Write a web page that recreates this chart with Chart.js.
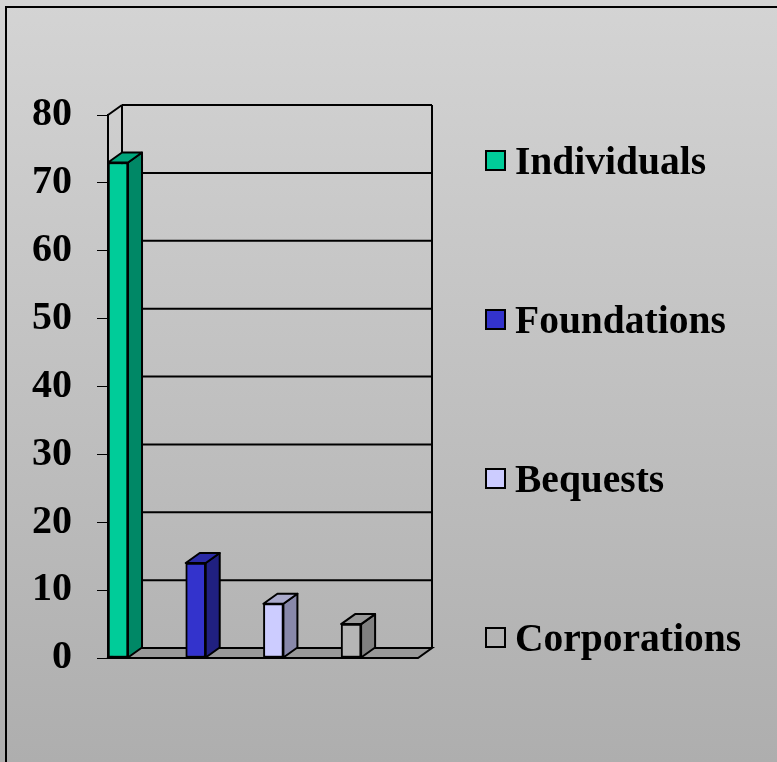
<!DOCTYPE html>
<html>
<head>
<meta charset="utf-8">
<script src="https://cdn.jsdelivr.net/npm/chart.js@4"></script>
<style>
  html, body { margin: 0; padding: 0; }
  body {
    width: 777px; height: 762px; overflow: hidden; position: relative;
    background: linear-gradient(to bottom, #d4d4d4 0%, #aeaeae 100%);
    font-family: "Liberation Serif", "Times New Roman", serif;
  }
  #frame {
    position: absolute; left: 5px; top: 6px; width: 820px; height: 820px;
    border: 2px solid #000; box-sizing: border-box;
  }
  #chartBox { position: absolute; left: 0; top: 0; }
  .legend-row { position: absolute; left: 485px; height: 44px; }
  .legend-row .sw {
    position: absolute; left: 0; top: 11px; width: 21px; height: 21px;
    border: 2px solid #000; box-sizing: border-box;
  }
  .legend-row .txt {
    position: absolute; left: 30px; top: 0; white-space: nowrap;
    font-size: 39.5px; font-weight: bold; line-height: 44px; color: #000;
  }
</style>
</head>
<body>
<div id="frame"></div>
<div id="chartBox"><canvas id="giftChart" width="777" height="762"></canvas></div>
<div id="legend"></div>
<script>
// data
const categories = ['Individuals', 'Foundations', 'Bequests', 'Corporations'];
const values = [73, 14, 8, 5];
const yTicks = [0, 10, 20, 30, 40, 50, 60, 70, 80];

// colours per series: front, side, top
const frontColors = ['#00cc99', '#3333cc', '#ccccff', '#b5b5b5'];
const sideColors = ['#008866', '#202080', '#8888aa', '#808080'];
const topColors = ['#00a67c', '#2a2aa6', '#aaaacc', '#999999'];
const legendSwatch = ['#00cc99', '#3333cc', '#ccccff', 'transparent'];

const DX = 14, DY = -10; // 3d depth

// back wall, floor and grid behind the bars
const wallsPlugin = {
    id: 'walls',
    beforeDatasetsDraw(chart) {
        const ctx = chart.ctx;
        const a = chart.chartArea;
        const y = chart.scales.y;
        ctx.save();
        ctx.strokeStyle = '#000';
        ctx.lineWidth = 2;

        // floor
        ctx.fillStyle = '#999999';
        ctx.beginPath();
        ctx.moveTo(a.left, a.bottom);
        ctx.lineTo(a.left + DX, a.bottom + DY);
        ctx.lineTo(a.right + DX, a.bottom + DY);
        ctx.lineTo(a.right, a.bottom);
        ctx.closePath();
        ctx.fill();
        ctx.stroke();

        // back wall grid lines
        yTicks.forEach(function(v) {
            const py = y.getPixelForValue(v) + DY;
            ctx.beginPath();
            ctx.moveTo(a.left + DX, py);
            ctx.lineTo(a.right + DX, py);
            ctx.stroke();
        });

        // back wall edges
        ctx.beginPath();
        ctx.moveTo(a.left + DX, a.bottom + DY);
        ctx.lineTo(a.left + DX, a.top + DY);
        ctx.moveTo(a.right + DX, a.bottom + DY);
        ctx.lineTo(a.right + DX, a.top + DY);
        // side wall top edge
        ctx.moveTo(a.left, a.top);
        ctx.lineTo(a.left + DX, a.top + DY);
        ctx.stroke();
        ctx.restore();
    },
    afterDatasetsDraw(chart) {
        const ctx = chart.ctx;
        ctx.save();
        ctx.strokeStyle = '#000';
        ctx.lineWidth = 2;
        ctx.lineJoin = 'round';
        chart.data.datasets.forEach(function(ds, i) {
            const meta = chart.getDatasetMeta(i);
            meta.data.forEach(function(bar) {
                const l = bar.x - bar.width / 2, r = bar.x + bar.width / 2;
                const t = bar.y, b = bar.base;
                // side face
                ctx.fillStyle = sideColors[i];
                ctx.beginPath();
                ctx.moveTo(r, t);
                ctx.lineTo(r + DX, t + DY);
                ctx.lineTo(r + DX, b + DY);
                ctx.lineTo(r, b);
                ctx.closePath();
                ctx.fill();
                ctx.stroke();
                // top face
                ctx.fillStyle = topColors[i];
                ctx.beginPath();
                ctx.moveTo(l, t);
                ctx.lineTo(l + DX, t + DY);
                ctx.lineTo(r + DX, t + DY);
                ctx.lineTo(r, t);
                ctx.closePath();
                ctx.fill();
                ctx.stroke();
            });
        });
        ctx.restore();
    }
};

const datasets = categories.map(function(name, i) {
    return {
        label: name,
        data: [{ x: i, y: values[i] }],
        backgroundColor: frontColors[i],
        borderColor: '#000',
        borderWidth: 2,
        borderSkipped: false,
        barThickness: 20
    };
});

const ctx = document.getElementById('giftChart').getContext('2d');
const giftChart = new Chart(ctx, {
    type: 'bar',
    data: { datasets: datasets },
    options: {
        responsive: false,
        animation: false,
        grouped: false,
        layout: { padding: { left: 0, top: 115, right: 359, bottom: 104 } },
        plugins: {
            legend: { display: false },
            tooltip: { enabled: false }
        },
        scales: {
            x: {
                type: 'linear',
                min: -0.129,
                max: 3.861,
                offset: false,
                display: false
            },
            y: {
                min: 0,
                max: 80,
                ticks: {
                    stepSize: 10,
                    padding: 25,
                    color: '#000',
                    font: { family: '"Liberation Serif", "Times New Roman", serif', size: 40, weight: 'bold' }
                },
                grid: {
                    drawOnChartArea: false,
                    drawTicks: true,
                    tickLength: 11,
                    color: '#000',
                    lineWidth: 1
                },
                border: { display: true, color: '#000', width: 2 },
                afterFit: function(scale) { scale.width = 108; }
            }
        }
    },
    plugins: [wallsPlugin]
});

// legend
const legendEl = document.getElementById('legend');
const legendTops = [139, 298, 457, 616];
categories.forEach(function(name, i) {
    const row = document.createElement('div');
    row.className = 'legend-row';
    row.style.top = legendTops[i] + 'px';
    row.innerHTML = '<div class="sw" style="background:' + legendSwatch[i] + '"></div>' +
        '<div class="txt">' + name + '</div>';
    legendEl.appendChild(row);
});
</script>
</body>
</html>
